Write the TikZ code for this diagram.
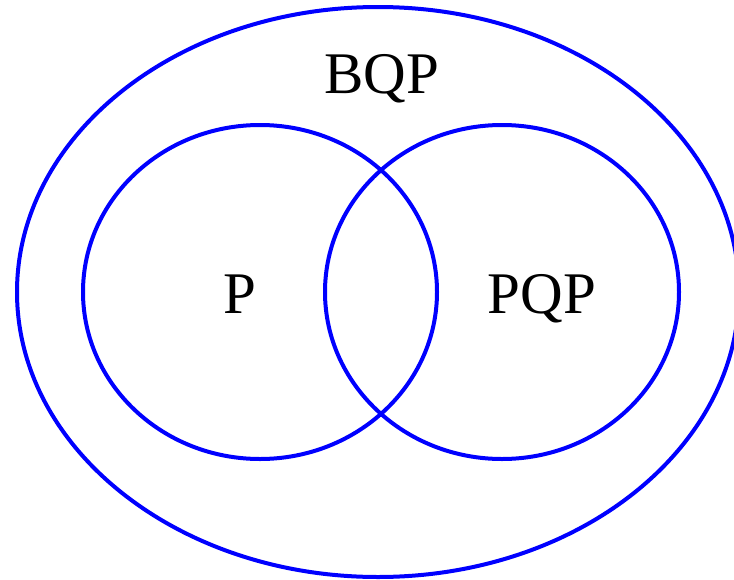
\documentclass[tikz,border=0pt]{standalone}
\usepackage{fontspec}
\setmainfont{Liberation Serif}
\begin{document}
\begin{tikzpicture}[x=1pt,y=-1pt,
  setline/.style={draw={rgb,255:red,0;green,0;blue,255},line width=4pt},
  lbl/.style={font=\fontsize{59}{59}\selectfont,anchor=base,inner sep=0pt}]
\useasboundingbox (0,0) rectangle (734,579);
\clip (0,0) rectangle (734,579);
\path[setline] (378,292) ellipse [x radius=361, y radius=285];
\path[setline] (260,292) ellipse [x radius=177, y radius=167];
\path[setline] (502,292) ellipse [x radius=177, y radius=167];
\node[lbl] (bqp) at (382,93) {BQP};
\node[lbl] (p) at (240,313) {P};
\node[lbl] (pqp) at (542,313) {PQP};
\end{tikzpicture}
\end{document}
